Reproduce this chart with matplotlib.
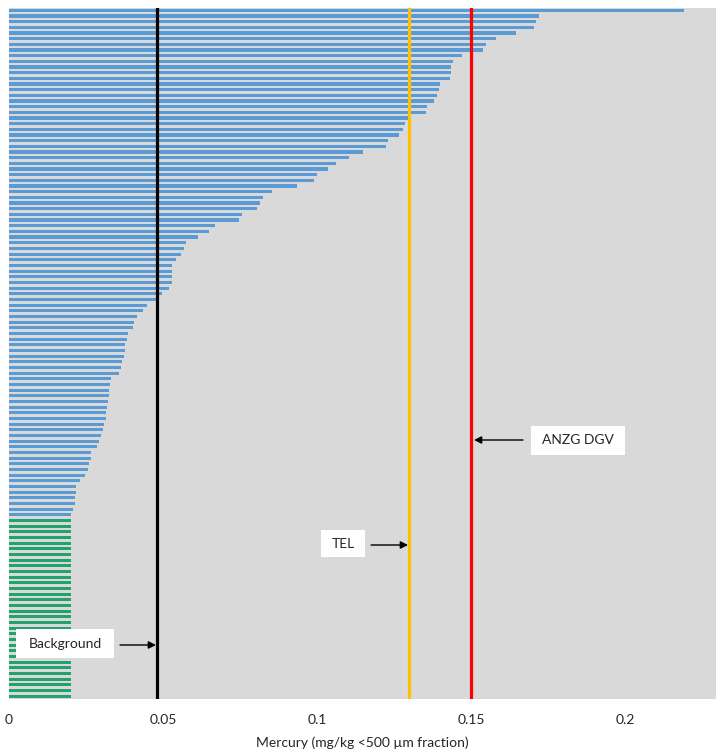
import matplotlib
matplotlib.use("Agg")
import matplotlib.pyplot as plt
from matplotlib.patches import Rectangle

plt.rcParams['font.family'] = ['Lato', 'DejaVu Sans']

# Site values (mg/kg), sorted descending
site_values = [
    0.219, 0.172, 0.171, 0.1705, 0.1645, 0.158, 0.155, 0.154, 0.147, 0.144,
    0.1435, 0.1435, 0.143, 0.140, 0.1395, 0.139, 0.138, 0.1357, 0.1353, 0.1305,
    0.1285, 0.128, 0.1265, 0.123, 0.1225, 0.115, 0.1105, 0.106, 0.1035, 0.100,
    0.099, 0.0935, 0.0855, 0.0825, 0.0815, 0.0805, 0.0755, 0.0745, 0.067, 0.065,
    0.0615, 0.0573, 0.0568, 0.0558, 0.0543, 0.053, 0.0529, 0.0528, 0.0528, 0.0519,
    0.0496, 0.048, 0.0448, 0.0434, 0.0417, 0.0407, 0.0403, 0.0385, 0.0383, 0.0378,
    0.0376, 0.0372, 0.0367, 0.0363, 0.0357, 0.0332, 0.0328, 0.0325, 0.0324, 0.0322,
    0.0317, 0.0315, 0.0315, 0.031, 0.0305, 0.0299, 0.0293, 0.0286, 0.0266, 0.0265,
    0.0259, 0.0258, 0.0248, 0.0229, 0.0218, 0.0218, 0.0215, 0.0215, 0.0208, 0.0201,
]
# Below-detection samples (plotted at detection limit)
nd_values = [0.02] * 32

guidelines = {"Background": 0.048, "TEL": 0.13, "ANZG DGV": 0.15}
guideline_colors = {"Background": "#000000", "TEL": "#FFC000", "ANZG DGV": "#FF0000"}

xticks = [0, 0.05, 0.1, 0.15, 0.2]
xticklabels = ["0", "0.05", "0.1", "0.15", "0.2"]
xlabel = "Mercury (mg/kg <500 µm fraction)"

W, H = 717, 755
fig = plt.figure(figsize=(W / 100, H / 100), dpi=100)
ax = fig.add_axes([9 / W, 1 - 699 / H, 707 / W, 691.5 / H])
ax.set_facecolor("#D9D9D9")

values = site_values + nd_values
colors = ["#5B9BD5"] * len(site_values) + ["#22A36E"] * len(nd_values)
ypos = list(range(len(values)))
ax.barh(ypos, values, height=0.55, color=colors, zorder=2)

for name, v in guidelines.items():
    ax.axvline(v, color=guideline_colors[name], lw=2.3, zorder=3)

ax.set_xlim(0, 0.2295)
ax.set_ylim(len(values) - 0.5, -0.5)
ax.set_yticks([])
ax.set_xticks(xticks)
ax.set_xticklabels(xticklabels, fontsize=10, color="#262626")
ax.tick_params(axis="x", length=0, pad=11)
for s in ax.spines.values():
    s.set_visible(False)
ax.set_xlabel(xlabel, fontsize=10, color="#262626", labelpad=7)

# Annotation boxes (figure pixel coords, image y from top)
def box(x0, y0, x1, y1, label):
    fig.patches.append(Rectangle((x0 / W, 1 - y1 / H), (x1 - x0) / W, (y1 - y0) / H,
                                 transform=fig.transFigure, facecolor="white",
                                 edgecolor="none", zorder=5))
    fig.text((x0 + x1) / 2 / W, 1 - (y0 + y1) / 2 / H, label, ha="center", va="center",
             fontsize=10, color="#262626", zorder=6)

def arrow(xt, xh, y):
    ax.annotate("", xy=(xh, H - y), xycoords="figure pixels",
                xytext=(xt, H - y), textcoords="figure pixels",
                arrowprops=dict(arrowstyle="-|>", color="black", lw=1.0,
                                mutation_scale=11, shrinkA=0, shrinkB=0), zorder=6)

box(531, 426, 625, 455, "ANZG DGV")
arrow(523, 474, 440)
box(321, 530, 365, 557, "TEL")
arrow(371, 408, 545)
box(16, 629, 114, 658, "Background")
arrow(120, 156, 645)

fig.savefig("out.png", dpi=100)
